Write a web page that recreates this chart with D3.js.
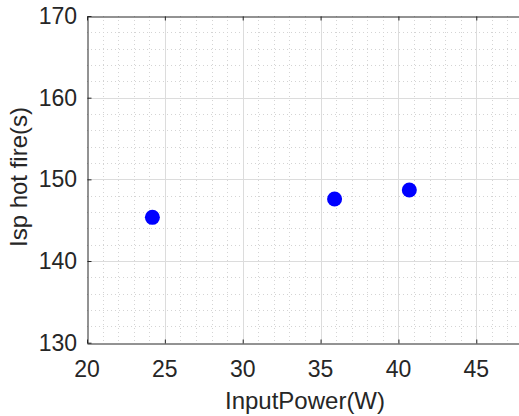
<!DOCTYPE html>
<html lang="en">
<head>
    <meta charset="utf-8">
	<style>
		body {
			margin: 0;
			background: white;
			overflow: hidden;
		}
		svg {
			background: white;
			display: block;
		}
		.tick-label {
			font-family: "Liberation Sans", Arial, sans-serif;
			font-size: 23px;
			fill: #262626;
		}
		.axis-title {
			font-family: "Liberation Sans", Arial, sans-serif;
			font-size: 24px;
			fill: #262626;
		}
		.grid-major {
			stroke: #dcdcdc;
			stroke-width: 1px;
		}
		.grid-minor {
			stroke: #d4d4d4;
			stroke-width: 1px;
			stroke-dasharray: 1,3;
		}
	</style>
	<script src="https://d3js.org/d3.v7.min.js"></script>
</head>
<body>
<script type="text/javascript">
// data
var inputPower = [24.2, 35.9, 40.7];
var ispHotFire = [145.35, 147.6, 148.7];

var xTicks = [20, 25, 30, 35, 40, 45];
var yTicks = [130, 140, 150, 160, 170];

var width = 519,
	height = 416;

// plot box (window.top is read-only, so no plain "top")
var boxL = 87, boxT = 16, boxB = 342.7, boxR = 523;

var x = d3.scaleLinear().domain([20, 48]).range([boxL, boxR]);
var y = d3.scaleLinear().domain([130, 170]).range([boxB, boxT]);

var svg = d3.select("body").append("svg")
	.attr("width", width)
	.attr("height", height);

var g = svg.append("g");

// minor grid
g.selectAll(".xminor")
	.data(d3.range(21, 48, 1).filter(function(d) { return d % 5 != 0; }))
	.enter().append("line")
	.attr("class", "grid-minor")
	.attr("x1", function(d) { return Math.round(x(d)) + 0.5; })
	.attr("x2", function(d) { return Math.round(x(d)) + 0.5; })
	.attr("y1", boxT)
	.attr("y2", boxB);

g.selectAll(".yminor")
	.data(d3.range(132, 170, 2).filter(function(d) { return d % 10 != 0; }))
	.enter().append("line")
	.attr("class", "grid-minor")
	.attr("y1", function(d) { return Math.round(y(d)) + 0.5; })
	.attr("y2", function(d) { return Math.round(y(d)) + 0.5; })
	.attr("x1", boxL)
	.attr("x2", boxR);

// major grid
g.selectAll(".xmajor")
	.data(xTicks.slice(1))
	.enter().append("line")
	.attr("class", "grid-major")
	.attr("x1", function(d) { return Math.round(x(d)) + 0.5; })
	.attr("x2", function(d) { return Math.round(x(d)) + 0.5; })
	.attr("y1", boxT)
	.attr("y2", boxB);

g.selectAll(".ymajor")
	.data(yTicks.slice(1, -1))
	.enter().append("line")
	.attr("class", "grid-major")
	.attr("y1", function(d) { return Math.round(y(d)) + 0.5; })
	.attr("y2", function(d) { return Math.round(y(d)) + 0.5; })
	.attr("x1", boxL)
	.attr("x2", boxR);

// axes with inward ticks
var xAxisB = d3.axisBottom(x).tickValues(xTicks).tickSize(-4).tickSizeOuter(0).tickFormat("");
var xAxisT = d3.axisTop(x).tickValues(xTicks).tickSize(-4).tickSizeOuter(0).tickFormat("");
var yAxisL = d3.axisLeft(y).tickValues(yTicks).tickSize(-4).tickSizeOuter(0).tickFormat("");

function styleAxis(sel) {
	sel.selectAll("path").attr("stroke", "#262626");
	sel.selectAll("line").attr("stroke", "#262626");
}

g.append("g").attr("transform", "translate(0," + (Math.round(boxB) + 0.5) + ")").call(xAxisB).call(styleAxis);
g.append("g").attr("transform", "translate(0," + (boxT + 0.5) + ")").call(xAxisT).call(styleAxis);
g.append("g").attr("transform", "translate(" + (boxL + 0.5) + ",0)").call(yAxisL).call(styleAxis);

// tick labels
g.selectAll(".xlab")
	.data(xTicks)
	.enter().append("text")
	.attr("class", "tick-label")
	.attr("x", function(d) { return x(d); })
	.attr("y", 377)
	.attr("text-anchor", "middle")
	.text(function(d) { return d; });

g.selectAll(".ylab")
	.data(yTicks)
	.enter().append("text")
	.attr("class", "tick-label")
	.attr("x", 77)
	.attr("y", function(d) { return y(d) + 8; })
	.attr("text-anchor", "end")
	.text(function(d) { return d; });

// titles
svg.append("text")
	.attr("class", "axis-title")
	.attr("x", (boxL + boxR) / 2)
	.attr("y", 409)
	.attr("text-anchor", "middle")
	.text("InputPower(W)");

svg.append("text")
	.attr("class", "axis-title")
	.attr("transform", "translate(27,177) rotate(-90)")
	.attr("text-anchor", "middle")
	.text("Isp hot fire(s)");

// points
g.selectAll(".pt")
	.data(inputPower)
	.enter().append("circle")
	.attr("cx", function(d) { return x(d); })
	.attr("cy", function(d, i) { return y(ispHotFire[i]); })
	.attr("r", 7.5)
	.style("fill", "#0000ff");
</script>
</body>
</html>
